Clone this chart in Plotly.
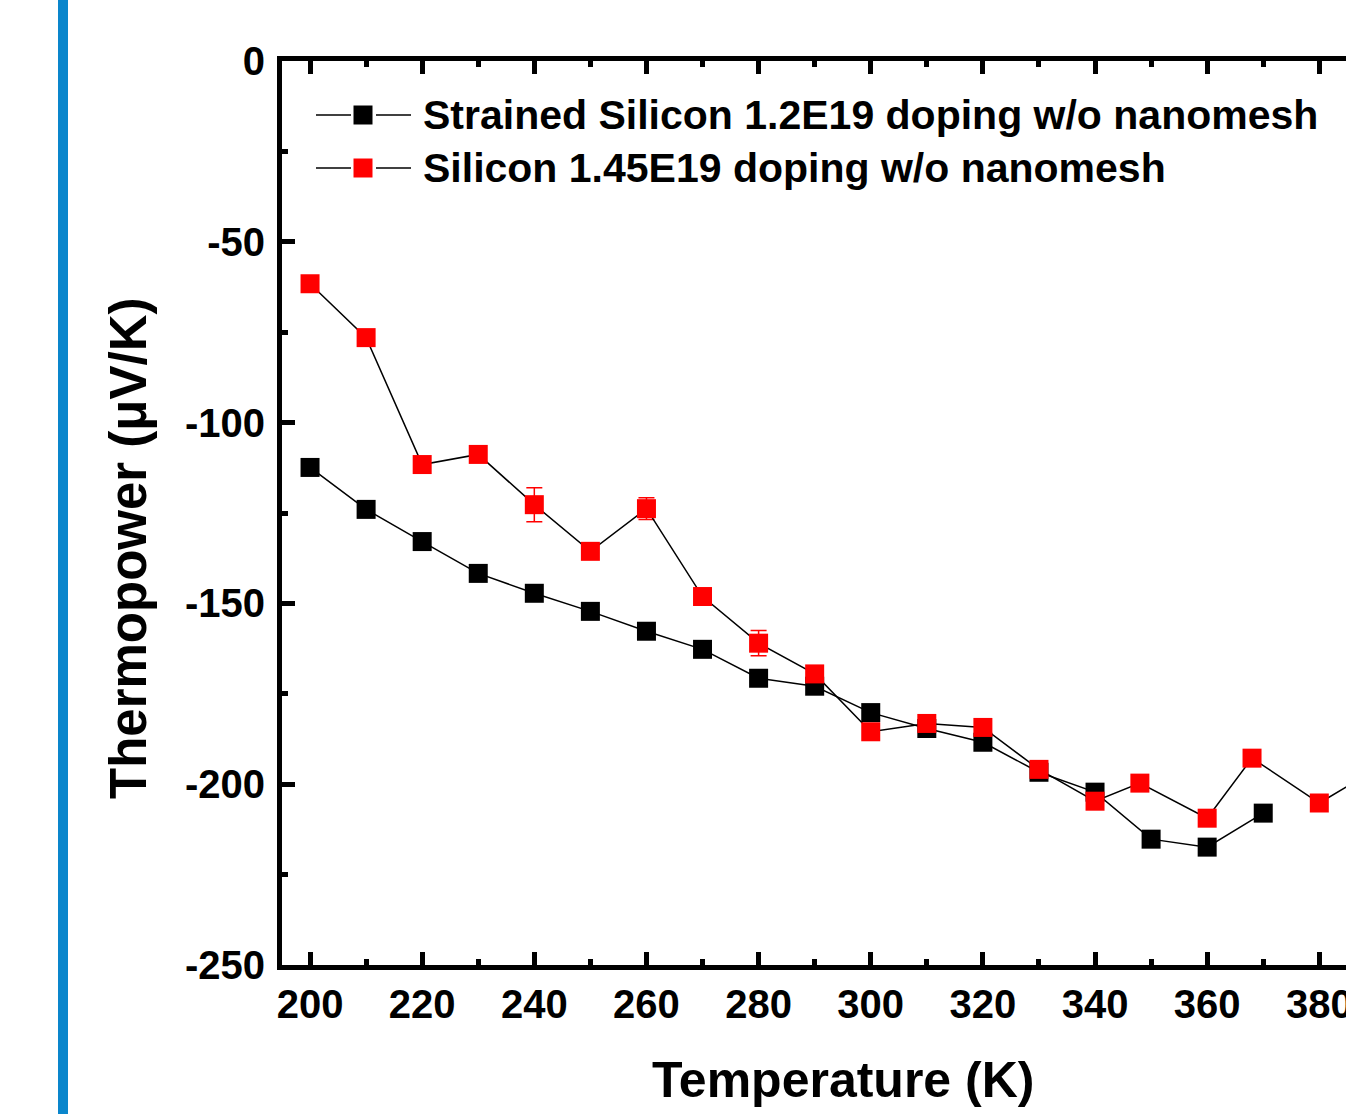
import plotly.graph_objects as go

# ---- data ----
series_names = ["Strained Silicon 1.2E19 doping w/o nanomesh",
                "Silicon 1.45E19 doping w/o nanomesh"]

temp_black = [200, 210, 220, 230, 240, 250, 260, 270, 280, 290, 300, 310, 320, 330, 340, 350, 360, 370]
thermo_black = [-112.4, -124.0, -132.9, -141.7, -147.2, -152.2, -157.7, -162.7, -170.7, -172.9,
                -180.2, -184.6, -188.4, -196.7, -202.2, -215.2, -217.4, -208.0]

temp_red = [200, 210, 220, 230, 240, 250, 260, 270, 280, 290, 300, 310, 320, 330, 340, 348, 360, 368, 380, 390]
thermo_red = [-61.6, -76.5, -111.6, -108.8, -122.7, -135.6, -123.8, -148.1, -161.0, -169.5,
              -185.5, -183.2, -184.3, -195.9, -204.7, -199.7, -209.4, -192.8, -205.2, -196.0]
err_red = [None, None, None, None, 4.7, None, 3.0, None, 3.5, None,
           None, None, None, None, None, None, None, None, None, None]

x_ticks = [200, 220, 240, 260, 280, 300, 320, 340, 360, 380]
x_ticktext = ["200", "220", "240", "260", "280", "300", "320", "340", "360", "380"]
y_ticks = [0, -50, -100, -150, -200, -250]
y_ticktext = ["0", "-50", "-100", "-150", "-200", "-250"]

x_title = "Temperature (K)"
y_title = "Thermopower (\u03bcV/K)"

FONT = "Liberation Sans, Arial, Helvetica, sans-serif"
BLACK = "#000000"
RED = "#FF0000"

W, H = 1346, 1114
ML, MR, MT, MB = 282, 0, 61, 149
PW, PH = W - ML - MR, H - MT - MB


def px_x(px):
    return (px - ML) / PW


def px_y(py):
    return (H - MB - py) / PH


fig = go.Figure()

fig.add_trace(go.Scatter(
    x=temp_black, y=thermo_black, mode="lines+markers", name=series_names[0],
    line=dict(color=BLACK, width=1.5),
    marker=dict(symbol="square", size=19, color=BLACK, line=dict(width=0)),
    showlegend=False, cliponaxis=True))

fig.add_trace(go.Scatter(
    x=temp_red, y=thermo_red, mode="lines+markers", name=series_names[1],
    line=dict(color=BLACK, width=1.5),
    marker=dict(symbol="square", size=19, color=RED, line=dict(width=0)),
    error_y=dict(type="data", array=err_red, color=RED, thickness=1.5, width=8, visible=True),
    showlegend=False, cliponaxis=True))

# ---- custom legend (Origin style: line - marker - line) on overlay axes ----
leg_rows = [px_y(115), px_y(168)]
leg_colors = [BLACK, RED]
for row, col, name in zip(leg_rows, leg_colors, series_names):
    fig.add_trace(go.Scatter(
        x=[px_x(316), px_x(351), None, px_x(376), px_x(411)], y=[row, row, None, row, row],
        mode="lines", line=dict(color=BLACK, width=1.5),
        xaxis="x2", yaxis="y2", showlegend=False, hoverinfo="skip"))
    fig.add_trace(go.Scatter(
        x=[px_x(363)], y=[row], mode="markers",
        marker=dict(symbol="square", size=19, color=col, line=dict(width=0)),
        xaxis="x2", yaxis="y2", showlegend=False, hoverinfo="skip"))
    fig.add_annotation(x=px_x(421), y=row, xref="x2", yref="y2", text=name,
                       showarrow=False, xanchor="left", yanchor="middle",
                       font=dict(family=FONT, size=41, color=BLACK, weight="bold"))

# axis titles as annotations for exact placement
fig.add_annotation(x=px_x(843), y=px_y(1080), xref="paper", yref="paper", text=x_title,
                   showarrow=False, xanchor="center", yanchor="middle",
                   font=dict(family=FONT, size=50, color=BLACK, weight="bold"))
fig.add_annotation(x=px_x(128), y=px_y(548), xref="paper", yref="paper", text=y_title,
                   showarrow=False, xanchor="center", yanchor="middle", textangle=-90,
                   font=dict(family=FONT, size=51, color=BLACK, weight="bold"))

axis_common = dict(
    showline=True, linecolor=BLACK, linewidth=5,
    ticks="inside", tickcolor=BLACK, tickwidth=5, ticklen=13,
    showgrid=False, zeroline=False, ticklabeloverflow="allow", automargin=False,
    tickfont=dict(family=FONT, size=40, color=BLACK, weight="bold"),
)

fig.update_layout(
    width=W, height=H,
    margin=dict(l=ML, r=MR, t=MT, b=MB, autoexpand=False),
    paper_bgcolor="white", plot_bgcolor="white",
    xaxis=dict(**axis_common, range=[195, 384.76], tickvals=x_ticks, ticktext=x_ticktext, mirror="ticks",
               minor=dict(dtick=10, tick0=200, ticks="inside", ticklen=6, tickwidth=5, tickcolor=BLACK, showgrid=False)),
    yaxis=dict(**axis_common, range=[-250, 0], tickvals=y_ticks, ticktext=y_ticktext, mirror=False,
               ticklabelstandoff=4,
               minor=dict(dtick=25, tick0=0, ticks="inside", ticklen=6, tickwidth=5, tickcolor=BLACK, showgrid=False)),
    xaxis2=dict(overlaying="x", range=[0, 1], visible=False, fixedrange=True, automargin=False),
    yaxis2=dict(overlaying="y", range=[0, 1], visible=False, fixedrange=True, automargin=False),
    showlegend=False,
)

# blue vertical bar at far left of the page
fig.add_shape(type="rect", xref="paper", yref="paper",
              x0=px_x(58), x1=px_x(68), y0=px_y(H + 20), y1=px_y(-20),
              fillcolor="#0A86CC", line=dict(width=0), layer="above")

fig.write_html("out.html")
